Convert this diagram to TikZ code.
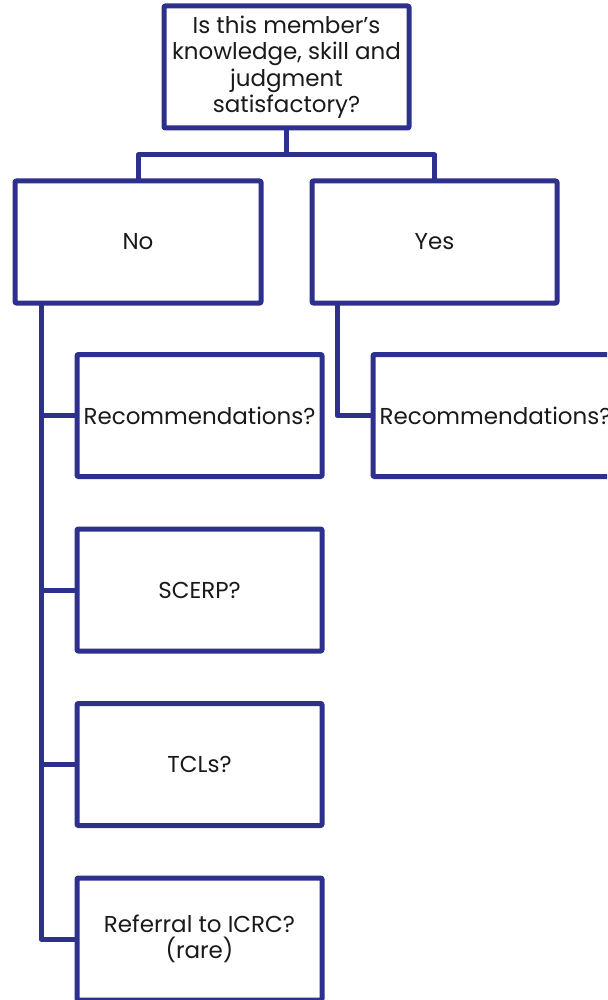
\documentclass[tikz,border=0pt]{standalone}
\usepackage{fontspec}
\setmainfont{Poppins}
\definecolor{navy}{RGB}{46,49,140}
\definecolor{ink}{RGB}{26,26,26}
\begin{document}
\begin{tikzpicture}[x=1pt,y=-1pt,
  line width=5pt, line join=round,
  box/.style={draw=navy, rectangle, rounded corners=1pt, inner sep=0pt, outer sep=0pt,
    minimum width=245pt, minimum height=122pt, align=center, text=ink,
    font=\fontsize{23}{26.5}\selectfont},
  link/.style={draw=navy, line width=5pt}]
\clip (0,0) rectangle (607,1000);
\useasboundingbox (0,0) rectangle (607,1000);
\fill[white] (0,0) rectangle (607,1000);

\node[box] (q) at (286.5,67) {Is this member’s\\knowledge, skill and\\judgment\\satisfactory?};
\node[box, minimum width=246pt] (no) at (138,242) {No};
\node[box] (yes) at (434.5,242) {Yes};

\node[box] (rec1) at (199.5,415.5) {Recommendations?};
\node[box] (scerp) at (199.5,590) {SCERP?};
\node[box] (tcl) at (199.5,764.5) {TCLs?};
\node[box] (ref) at (199.5,939) {Referral to ICRC?\\(rare)};

\node[box] (rec2) at (495.5,415.5) {Recommendations?};

% top question splits into No / Yes
\coordinate (bus) at (286.5,155);
\draw[link] (q.south) -- (bus);
\draw[link] (no.north) |- (bus) -| (yes.north);

% the No column: spine with four branches
\coordinate (nspine) at (41,303);
\draw[link] (nspine) |- (ref.west);
\draw[link] (nspine |- rec1.west) -- (rec1.west);
\draw[link] (nspine |- scerp.west) -- (scerp.west);
\draw[link] (nspine |- tcl.west) -- (tcl.west);

% the Yes column
\coordinate (yspine) at (337,303);
\draw[link] (yspine) |- (rec2.west);
\end{tikzpicture}
\end{document}
